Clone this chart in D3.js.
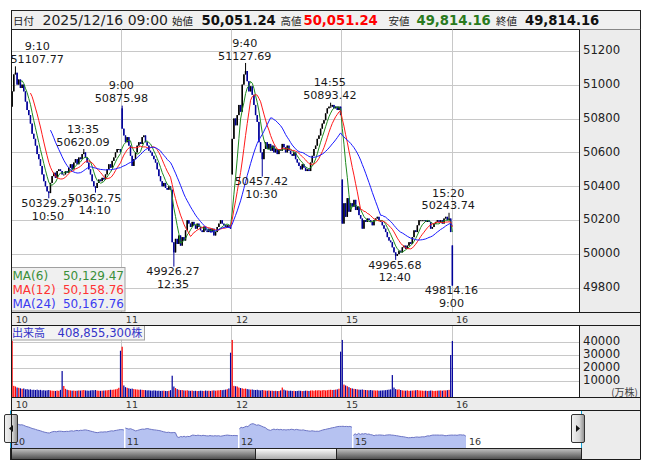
<!DOCTYPE html>
<html><head><meta charset="utf-8">
<script src="https://cdn.jsdelivr.net/npm/d3@7"></script>
<style>
html,body{margin:0;padding:0;background:#fff;}
svg{display:block;font-family:"DejaVu Sans",Verdana,sans-serif;}
</style></head><body>
<svg id="c" width="653" height="470"></svg>
<script>
// ---------------- DATA ----------------
const days = ["10", "11", "12", "15", "16"];
const dayOpens = [50870, 50860, 50470, 50440, 50051.24];
const close10 = [50960,51060,51070,51000,51030,50980,51000,50960,50900,50850,
 50820,50770,50710,50680,50640,50590,50560,50520,50470,50430,
 50400,50370,50360,50420,50460,50480,50450,50490,50500,50490,
 50470,50470,50490,50480,50510,50530,50500,50540,50560,50530,
 50570,50560,50590,50600,50570,50540,50500,50470,50430,50400,
 50390,50420,50440,50430,50450,50440,50470,50500,50530,50510,
 50550,50570,50600,50620,50620,50600];
const close11 = [50740,50700,50660,50690,50640,50580,50520,50560,50600,50640,
 50660,50650,50690,50700,50660,50640,50610,50600,50580,50560,
 50540,50500,50460,50430,50400,50420,50390,50380,50400,50380,
 50070,50010,50090,50060,50110,50050,50100,50080,50140,50200,
 50180,50160,50190,50170,50150,50180,50160,50140,50130,50160,
 50140,50130,50150,50130,50150,50110,50130,50160,50180,50200,
 50180,50170,50160,50170,50160,50150];
const close12 = [50680,50800,50760,50820,50880,50840,51000,51060,51080,51020,
 50960,50990,50940,50880,50820,50780,50660,50600,50560,50620,
 50660,50620,50650,50610,50640,50600,50620,50590,50620,50610,
 50650,50630,50600,50640,50610,50590,50580,50600,50560,50540,
 50520,50500,50530,50510,50490,50500,50490,50540,50580,50620,
 50640,50680,50700,50740,50770,50790,50830,50860,50870,50870,
 50880,50860,50870,50850,50870,50820];
const close15 = [50180,50300,50220,50330,50250,50300,50280,50320,50260,50280,
 50230,50210,50150,50200,50190,50210,50200,50190,50170,50200,
 50210,50220,50200,50190,50170,50150,50130,50100,50080,50070,
 50040,50010,49990,50000,50020,50010,50040,50050,50030,50050,
 50070,50060,50100,50140,50130,50170,50200,50200,50200,50200,
 50190,50200,50190,50150,50160,50180,50190,50200,50190,50200,
 50180,50210,50220,50200,50210,50130];
const close16 = [49814.16];

const vol10 = [41200,6500,6000,5200,5000,4600,4200,4500,3800,4000,
 3600,3800,3400,3500,3300,3600,3200,3400,3000,3200,
 2900,3100,3300,3000,2800,2700,2600,2900,2700,3400,
 17900,6400,4200,3500,3200,3000,2800,2900,2700,2800,
 3000,2900,3100,3300,3000,2900,2800,3000,3200,3100,
 3300,2900,2800,2700,2800,2900,3000,3100,3300,3500,
 3400,3600,3800,4200,5000,33500];
const vol11 = [36600,6800,5500,5000,4600,4200,4400,4000,3800,3700,
 3500,3600,3400,3300,3200,3000,3100,2900,2800,3000,
 2900,2700,2800,2600,2700,2800,2600,2500,2700,3200,
 14300,6000,4800,4000,3500,3200,3300,3000,2900,3100,
 2800,2700,2900,2600,2700,2500,2600,2800,2700,2600,
 2900,2700,2800,2600,2900,3000,2800,3000,3100,3300,
 3200,3400,3600,3900,4500,32000];
const vol12 = [41800,6500,6200,6000,5200,4800,4600,4200,4400,4000,
 3800,3600,3700,3400,3300,3500,3200,3000,3300,3100,
 2900,2800,3000,2700,2800,2600,2700,2500,2600,3000,
 5200,3600,3000,2900,2700,2800,2600,2700,2500,2600,
 2800,2700,2500,2600,2800,2700,2600,2900,3000,2800,
 3100,3000,3200,2900,3100,3300,3000,3200,3400,3500,
 3300,3400,3600,3800,4300,32800];
const vol15 = [41800,7500,6800,6200,5500,4800,4500,4200,4000,3800,
 3600,3500,3700,3400,3300,3200,3100,3300,3000,3100,
 2900,3000,2800,2900,3000,3100,3200,3400,3600,3800,
 14800,5200,4000,3600,3800,3300,3000,2900,2800,3000,
 2700,2800,2900,3000,3100,3300,3000,2900,2800,2700,
 2800,2600,2700,2900,2800,2600,2700,2800,2900,3000,
 2800,3100,3000,3200,3400,30200];
const vol16 = [41000];

const extremes = [
  {day:0, k:2,  type:"high", value:51107.77, time:"9:10"},
  {day:0, k:22, type:"low",  value:50329.27, time:"10:50"},
  {day:0, k:43, type:"high", value:50620.09, time:"13:35"},
  {day:0, k:50, type:"low",  value:50362.75, time:"14:10"},
  {day:1, k:0,  type:"high", value:50875.98, time:"9:00"},
  {day:1, k:31, type:"low",  value:49926.27, time:"12:35"},
  {day:2, k:8,  type:"high", value:51127.69, time:"9:40"},
  {day:2, k:18, type:"low",  value:50457.42, time:"10:30"},
  {day:2, k:59, type:"high", value:50893.42, time:"14:55"},
  {day:3, k:32, type:"low",  value:49965.68, time:"12:40"},
  {day:3, k:64, type:"high", value:50243.74, time:"15:20"},
  {day:4, k:0,  type:"low",  value:49814.16, time:"9:00"}
];
const priceTicks = [49800, 50000, 50200, 50400, 50600, 50800, 51000, 51200];
const volTicks = [10000, 20000, 30000, 40000];
const maPeriods = [6, 12, 24];
const maLegendValues = [50129.47, 50158.76, 50167.76];
const headerLabels = ["日付", "始値", "高値", "安値", "終値"];
const headerDate = "2025/12/16 09:00";
const headerValues = [50051.24, 50051.24, 49814.16, 49814.16];
const volumeTotal = 408855300;

// ---------------- LAYOUT ----------------
const svg = d3.select("#c");
const L = 11.5, R = 579.5, RR = 640.5;
const mainTop = 29.5, mainBot = 312.5, band1Bot = 325.5, volBot = 397.5, band2Bot = 410.5, navBot = 448.5, sbBot = 459.5;
const BPD = 66;
const GRAY = "#ececec", GRID = "#c8c8c8";
const UPC = "#000000", DNC = "#000099";
const MAC = ["#1f8a1f", "#ff1a1a", "#1a1aff"];
const MALEG = ["#3a8f3a", "#ff3333", "#3b3bf0"];

const x = d3.scaleLinear().domain([0, 340]).range([11.3, 578.3]);
const y = d3.scaleLinear().domain([49800, 51200]).range([288.0, 50.7]);
const yv = d3.scaleLinear().domain([0, 40000]).range([394.3, 342.3]);
const xn = d3.scaleLinear().domain([0, 330]).range([10.5, 580.5]);
const yn = d3.scaleLinear().domain([49200, 52100]).range([448, 410.5]);
const crisp = v => Math.round(v) + 0.5;

// bars
const closeByDay = [close10, close11, close12, close15, close16];
const volByDay = [vol10, vol11, vol12, vol15, vol16];
const bars = [];
closeByDay.forEach((cl, d) => cl.forEach((c, k) => {
  const prev = bars.length ? bars[bars.length - 1].c : null;
  const o = k === 0 ? dayOpens[d] : prev;
  bars.push({i: d * BPD + k, d, k, o, c, h: Math.max(o, c), l: Math.min(o, c), v: volByDay[d][k], prev});
}));
extremes.forEach(e => {
  const b = bars.find(b => b.d === e.day && b.k === e.k);
  if (e.type === "high") b.h = Math.max(b.h, e.value); else b.l = Math.min(b.l, e.value);
  e.i = b.i;
});
const cx = i => x(i) + 0.8;

// defs
const defs = svg.append("defs");
defs.append("clipPath").attr("id", "mainClip").append("rect").attr("x", L).attr("y", mainTop).attr("width", R - L).attr("height", mainBot - mainTop);
const g1 = defs.append("linearGradient").attr("id", "sbGrad").attr("x1", 0).attr("y1", 0).attr("x2", 0).attr("y2", 1);
g1.append("stop").attr("offset", "0%").attr("stop-color", "#c4c4c4");
g1.append("stop").attr("offset", "100%").attr("stop-color", "#4a4a4a");
const g2 = defs.append("linearGradient").attr("id", "thGrad").attr("x1", 0).attr("y1", 0).attr("x2", 0).attr("y2", 1);
g2.append("stop").attr("offset", "0%").attr("stop-color", "#ffffff");
g2.append("stop").attr("offset", "100%").attr("stop-color", "#a8a8a8");
const g3 = defs.append("linearGradient").attr("id", "btGrad").attr("x1", 0).attr("y1", 0).attr("x2", 1).attr("y2", 0);
g3.append("stop").attr("offset", "0%").attr("stop-color", "#f2f2f2");
g3.append("stop").attr("offset", "60%").attr("stop-color", "#d8d8d8");
g3.append("stop").attr("offset", "100%").attr("stop-color", "#8a8a8a");

// panels
svg.append("rect").attr("width", 653).attr("height", 470).attr("fill", "#fff");
svg.append("rect").attr("x", L).attr("y", 10.5).attr("width", RR - L).attr("height", 19).attr("fill", "#f0f0f0").attr("stroke", "#222");
svg.append("rect").attr("x", R).attr("y", mainTop).attr("width", RR - R).attr("height", mainBot - mainTop).attr("fill", GRAY);
svg.append("rect").attr("x", R).attr("y", band1Bot).attr("width", RR - R).attr("height", volBot - band1Bot).attr("fill", GRAY);
svg.append("rect").attr("x", L).attr("y", mainBot).attr("width", RR - L).attr("height", band1Bot - mainBot).attr("fill", GRAY);
svg.append("rect").attr("x", L).attr("y", volBot).attr("width", RR - L).attr("height", band2Bot - volBot).attr("fill", GRAY);
svg.append("rect").attr("x", 581.5).attr("y", band2Bot).attr("width", RR - 581.5).attr("height", sbBot - band2Bot).attr("fill", GRAY);

// gridlines main
const grid = svg.append("g").attr("stroke", GRID).attr("stroke-width", 1);
priceTicks.forEach(t => grid.append("line").attr("x1", L).attr("x2", R).attr("y1", crisp(y(t))).attr("y2", crisp(y(t))));
[1, 2, 3, 4].forEach(d => grid.append("line").attr("x1", crisp(x(d * BPD))).attr("x2", crisp(x(d * BPD))).attr("y1", mainTop).attr("y2", mainBot));
// gridlines volume
volTicks.forEach(t => grid.append("line").attr("x1", L).attr("x2", R).attr("y1", crisp(yv(t))).attr("y2", crisp(yv(t))));
[1, 2, 3, 4].forEach(d => grid.append("line").attr("x1", crisp(x(d * BPD))).attr("x2", crisp(x(d * BPD))).attr("y1", band1Bot).attr("y2", volBot));

// candles
const cg = svg.append("g").attr("clip-path", "url(#mainClip)");
cg.selectAll("line.wick").data(bars).join("line")
  .attr("x1", b => cx(b.i)).attr("x2", b => cx(b.i))
  .attr("y1", b => y(b.h)).attr("y2", b => y(b.l))
  .attr("stroke", b => b.c >= b.o ? UPC : DNC).attr("stroke-width", 1);
cg.selectAll("rect.body").data(bars).join("rect")
  .attr("x", b => cx(b.i) - 0.75).attr("width", 1.5)
  .attr("y", b => y(Math.max(b.o, b.c)))
  .attr("height", b => Math.max(1, Math.abs(y(b.o) - y(b.c))))
  .attr("fill", b => b.c >= b.o ? UPC : DNC);

// moving averages
maPeriods.forEach((n, mi) => {
  const pts = bars.map((b, j) => j < n - 1 ? null : {i: b.i, v: d3.mean(bars.slice(j - n + 1, j + 1), d => d.c)}).filter(p => p);
  cg.append("path").datum(pts)
    .attr("d", d3.line().x(p => cx(p.i)).y(p => y(p.v)))
    .attr("fill", "none").attr("stroke", MAC[mi]).attr("stroke-width", 1);
});

// annotations
const ag = svg.append("g").attr("font-size", 11.2).attr("fill", "#1a1a1a").attr("text-anchor", "middle");
extremes.forEach(e => {
  const num = e.value.toFixed(2);
  const g = ag.append("g");
  let yNum, yTime;
  if (e.type === "high") { yNum = y(e.value) - 7.5; yTime = y(e.value) - 20.3; }
  else { yNum = y(e.value) + 4.8; yTime = y(e.value) + 17.4; }
  const t1 = g.append("text").attr("y", yNum + 4.1).text(num);
  const t2 = g.append("text").attr("y", yTime + 4.1).text(e.time);
  const w = Math.max(t1.node().getComputedTextLength(), t2.node().getComputedTextLength());
  let c = x(e.i);
  c = Math.max(c, L + w / 2 - 1);
  c = Math.min(c, R - w / 2 - 1);
  t1.attr("x", c); t2.attr("x", c);
});

// MA legend box
const lg = svg.append("g");
lg.append("rect").attr("x", L).attr("y", 267.5).attr("width", 113.5).attr("height", 43.5)
  .attr("fill", "#efefef").attr("fill-opacity", 0.92).attr("stroke", "#a0a0a0");
maPeriods.forEach((n, mi) => {
  const by = 279.5 + mi * 14;
  lg.append("text").attr("x", 12.5).attr("y", by).attr("font-size", 12).attr("fill", MALEG[mi]).text(`MA(${n})`);
  lg.append("text").attr("x", 124).attr("y", by).attr("font-size", 12).attr("fill", MALEG[mi]).attr("text-anchor", "end")
    .text(d3.format(",.2f")(maLegendValues[mi]));
});

// y axis main
svg.append("g").attr("transform", `translate(${R},0)`)
  .call(d3.axisRight(y).tickValues(priceTicks).tickSize(0).tickPadding(3.5).tickFormat(d3.format("d")))
  .call(g => g.select(".domain").remove())
  .call(g => g.selectAll("text").attr("font-size", 11.7).attr("fill", "#222").attr("font-family", "DejaVu Sans").attr("y", -1));

// volume bars
svg.append("g").selectAll("rect").data(bars).join("rect")
  .attr("x", b => cx(b.i) - 0.6).attr("width", 1.2)
  .attr("y", b => yv(b.v)).attr("height", b => volBot - 0.5 - yv(b.v))
  .attr("fill", b => (b.prev === null || b.c >= b.prev) ? "#ff0000" : "#00009c");

// volume axis
svg.append("g").attr("transform", `translate(${R},0)`)
  .call(d3.axisRight(yv).tickValues(volTicks).tickSize(0).tickPadding(3.5).tickFormat(d3.format("d")))
  .call(g => g.select(".domain").remove())
  .call(g => g.selectAll("text").attr("font-size", 11.7).attr("fill", "#222").attr("font-family", "DejaVu Sans").attr("y", -1.5));
svg.append("text").attr("x", 638).attr("y", 395.5).attr("text-anchor", "end").attr("font-size", 10)
  .attr("fill", "#444").attr("font-family", "'Noto Sans CJK JP','DejaVu Sans'").text("(万株)");

// volume label box
const vg = svg.append("g");
vg.append("rect").attr("x", L).attr("y", band1Bot).attr("width", 133).attr("height", 14.5)
  .attr("fill", "#f2f2f2").attr("fill-opacity", 0.9).attr("stroke", "#a0a0a0");
vg.append("text").attr("x", 12).attr("y", 336.5).attr("font-size", 11).attr("fill", "#3232c8")
  .attr("font-family", "'Noto Sans CJK JP'").text("出来高");
vg.append("text").attr("x", 57.5).attr("y", 336.5).attr("font-size", 11.6).attr("fill", "#3232c8")
  .text(d3.format(",")(volumeTotal)).append("tspan").attr("font-family", "'Noto Sans CJK JP'").attr("font-size", 11).text("株");

// day axis bands
[mainBot, volBot].forEach(top => {
  svg.append("g").attr("transform", `translate(0,${top})`)
    .call(d3.axisBottom(x).tickValues(days.map((_, d) => d * BPD)).tickSize(0).tickFormat((_, i) => days[i]))
    .call(g => g.select(".domain").remove())
    .call(g => g.selectAll("text").attr("text-anchor", "start").attr("x", 4).attr("y", 10.3).attr("dy", null)
      .attr("font-size", 9.5).attr("fill", "#333").attr("font-family", "DejaVu Sans"));
});

// navigator
const ng = svg.append("g");
[0, 1, 2, 3].forEach(d => {
  const pts = bars.filter(b => b.d === d).map(b => ({px: xn(b.i + 0.5), v: b.c}));
  pts.unshift({px: xn(d * BPD) + 1, v: pts[0].v});
  pts.push({px: xn((d + 1) * BPD) - 0.5, v: pts[pts.length - 1].v});
  ng.append("path").datum(pts).attr("d", d3.area().x(p => p.px).y0(448).y1(p => yn(p.v)))
    .attr("fill", "#b6c2f1");
  ng.append("path").datum(pts).attr("d", d3.line().x(p => p.px).y(p => yn(p.v)))
    .attr("fill", "none").attr("stroke", "#6c74c4").attr("stroke-width", 1);
});
days.forEach((lab, d) => {
  ng.append("text").attr("x", xn(d * BPD) + 2.5).attr("y", 444.5).attr("font-size", 9.5).attr("fill", "#333").text(lab);
});
// selection edges
ng.append("line").attr("x1", 10.5).attr("x2", 10.5).attr("y1", band2Bot).attr("y2", navBot).attr("stroke", "#19a4d8");
ng.append("line").attr("x1", 581.5).attr("x2", 581.5).attr("y1", band2Bot).attr("y2", navBot).attr("stroke", "#19a4d8");
// scrollbar
ng.append("rect").attr("x", 10.5).attr("y", navBot).attr("width", 571).attr("height", sbBot - navBot).attr("fill", "url(#sbGrad)").attr("stroke", "#222");
ng.append("rect").attr("x", 255.5).attr("y", navBot).attr("width", 81).attr("height", sbBot - navBot).attr("fill", "url(#thGrad)").attr("stroke", "#222");
// handles
[[4.5, "M13,425 L9,428.5 L13,432 Z"], [571.5, "M576,425 L580,428.5 L576,432 Z"]].forEach(([hx, tri]) => {
  ng.append("rect").attr("x", hx).attr("y", 414.5).attr("width", 13).attr("height", 28).attr("rx", 1.5)
    .attr("fill", "url(#btGrad)").attr("stroke", "#333");
  ng.append("path").attr("d", tri).attr("fill", "#111");
});

// frame lines
const fr = svg.append("g").attr("stroke", "#1a1a1a").attr("fill", "none");
fr.append("line").attr("x1", L).attr("x2", L).attr("y1", 10.5).attr("y2", sbBot);
fr.append("line").attr("x1", R).attr("x2", R).attr("y1", mainTop).attr("y2", mainBot);
fr.append("line").attr("x1", R).attr("x2", R).attr("y1", band1Bot).attr("y2", volBot);
fr.append("line").attr("x1", RR).attr("x2", RR).attr("y1", mainTop).attr("y2", sbBot);
[mainBot, band1Bot, volBot, band2Bot, sbBot].forEach(yy => fr.append("line").attr("x1", L).attr("x2", RR).attr("y1", yy).attr("y2", yy));

// header
const hg = svg.append("g");
const cjk = "'Noto Sans CJK JP','DejaVu Sans'";
const labX = [13, 172, 280.5, 388.5, 496];
const valX = [201.5, 303.5, 416.5, 525];
const valC = ["#111", "#ff0000", "#2a7a1e", "#111"];
headerLabels.forEach((t, i) => hg.append("text").attr("x", labX[i]).attr("y", 24.5).attr("font-size", 10.5).attr("font-family", cjk).attr("fill", "#222").text(t));
hg.append("text").attr("x", 42.5).attr("y", 25).attr("font-size", 14).attr("fill", "#222").text(headerDate);
headerValues.forEach((v, i) => hg.append("text").attr("x", valX[i]).attr("y", 25).attr("font-size", 13.2).attr("font-weight", "bold")
  .attr("fill", valC[i]).text(d3.format(",.2f")(v)));
</script>
</body></html>
